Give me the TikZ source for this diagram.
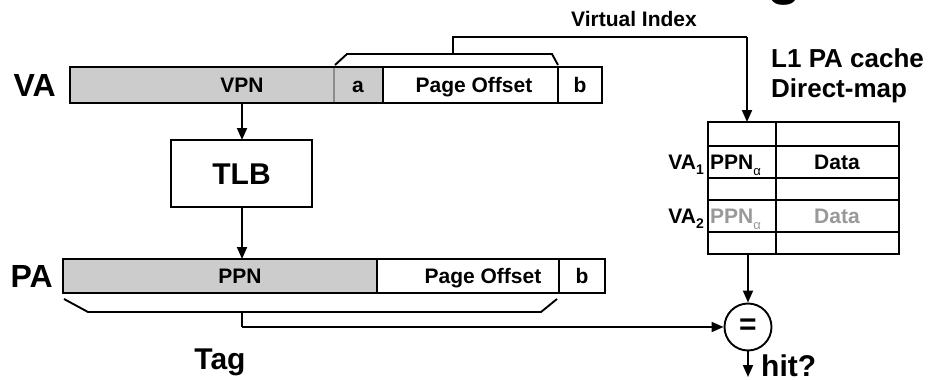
\documentclass[tikz,border=0pt]{standalone}
\usepackage{fontspec}
\setmainfont{Liberation Sans}
\usetikzlibrary{arrows.meta,calc}
\definecolor{cellgray}{HTML}{CCCCCC}
\definecolor{textgray}{HTML}{999999}
\definecolor{sepgray}{HTML}{8C8C8C}
\tikzset{
  fsz/.style={font=\fontsize{#1}{#1}\selectfont\bfseries},
  boxnode/.style={draw, line width=2.1pt, inner sep=0pt, outer sep=0pt, anchor=north west},
  txt/.style={inner sep=0pt, anchor=base},
  conn/.style={line width=1.9pt},
  arr/.style={line width=1.9pt, -{Triangle[length=12pt,width=10pt]}},
}
\newcommand{\subsc}[1]{\raisebox{-4.5pt}{\fontsize{14}{14}\selectfont #1}}
\newcommand{\alphasub}{\raisebox{-6pt}{\fontsize{13}{13}\selectfont\mdseries α}}
\begin{document}
\begin{tikzpicture}[x=1pt,y=-1pt]
\useasboundingbox (0,0) rectangle (930,380);

% fragment of the title above the picture
\node[fsz=56, txt] (titlefrag) at (785,-6) {g};

% ---------- VA row ----------
\fill[cellgray] (70,67) rectangle (383,103);
\node[boxnode, minimum width=532pt, minimum height=36pt] (va) at (70,67) {};
\draw[sepgray, line width=1.5pt] (334,68) -- (334,102);
\draw[line width=1.8pt] (383,67) -- (383,103);
\draw[line width=1.8pt] (558,67) -- (558,103);
\node[fsz=21, txt] (vpn) at (242,92.5) {VPN};
\node[fsz=21, txt] (acell) at (358,92.5) {a};
\node[fsz=21, txt] (vpo) at (474,92.5) {Page Offset};
\node[fsz=21, txt] (vb) at (580,92.5) {b};
\node[fsz=32, txt, anchor=base east] (valab) at (56,96) {VA};

% bracket over a + page offset, virtual index
\coordinate (vbl) at (335,65);
\coordinate (vbr) at (558,65);
\coordinate (vstem) at (453,54);
\coordinate (vtop) at (453,37);
\coordinate (vcorner) at (747,37);
\draw[conn] (vbl) -- (347,54) -- (552,54) -- (vbr);
\draw[conn] (vstem) -- (vtop) -- (vcorner);
\node[fsz=21, txt, anchor=base east] (vilab) at (697,27) {Virtual Index};

% ---------- TLB ----------
\node[boxnode, minimum width=141pt, minimum height=67pt] (tlb) at (171,140) {};
\node[fsz=30, txt] (tlbtxt) at (241.5,184) {TLB};
\coordinate (vaout) at (242,103);
\coordinate (tlbin) at (242,140);
\coordinate (tlbout) at (242,207);
\coordinate (pain) at (242,259);
\draw[arr] (vaout) -- (tlbin);
\draw[arr] (tlbout) -- (pain);

% ---------- PA row ----------
\fill[cellgray] (63,259) rectangle (377,293);
\node[boxnode, minimum width=542pt, minimum height=34pt] (pa) at (63,259) {};
\draw[line width=1.5pt] (377,259) -- (377,293);
\draw[line width=1.8pt] (559,259) -- (559,293);
\node[fsz=21, txt] (ppn) at (240,283.5) {PPN};
\node[fsz=21, txt] (ppo) at (483,283.5) {Page Offset};
\node[fsz=21, txt] (pb) at (582,283.5) {b};
\node[fsz=32, txt, anchor=base east] (palab) at (53,287) {PA};

% tag bracket
\coordinate (pbl) at (64,299);
\coordinate (pbr) at (557,299);
\coordinate (pstem) at (242,312);
\coordinate (pcorner) at (242,327);
\draw[conn] (pbl) -- (88,312) -- (541,312) -- (pbr);
\node[fsz=30, txt] (taglab) at (220,369) {Tag};

% ---------- cache ----------
\node[fsz=26, txt, anchor=base west] (l1lab) at (771,67) {L1 PA cache};
\node[fsz=26, txt, anchor=base west] (dmlab) at (771,97) {Direct-map};
\node[boxnode, minimum width=191pt, minimum height=132pt] (cache) at (708,122) {};
\draw[line width=1.8pt] (776,122) -- (776,254);
\foreach \yy in {146,178,200,232} {\draw[line width=1.8pt] (708,\yy) -- (899,\yy);}
\node[fsz=21, txt, anchor=base east] (va1) at (704,169.5) {VA\subsc{1}};
\node[fsz=21, txt, anchor=base west] (ppn1) at (710,169.5) {PPN\alphasub};
\node[fsz=21, txt] (data1) at (837,169.5) {Data};
\node[fsz=21, txt, anchor=base east] (va2) at (704,223.5) {VA\subsc{2}};
\node[fsz=21, txt, anchor=base west, text=textgray] (ppn2) at (710,223.5) {PPN\alphasub};
\node[fsz=21, txt, text=textgray] (data2) at (837,223.5) {Data};

\draw[arr] (vcorner) -- (vcorner |- cache.north);

% ---------- comparator ----------
\node[draw, circle, line width=1.9pt, minimum size=47pt, inner sep=0pt, fsz=30] (eq) at (748,327) {=};
\draw[arr] (eq.north |- cache.south) -- (eq.north);
\draw[conn] (pstem) -- (pcorner);
\draw[arr] (pcorner) -- (eq.west);
\coordinate (hitend) at (748,377);
\draw[arr] (eq.south) -- (hitend);
\node[fsz=30, txt, anchor=base west] (hitlab) at (761,376) {hit?};
\end{tikzpicture}
\end{document}
